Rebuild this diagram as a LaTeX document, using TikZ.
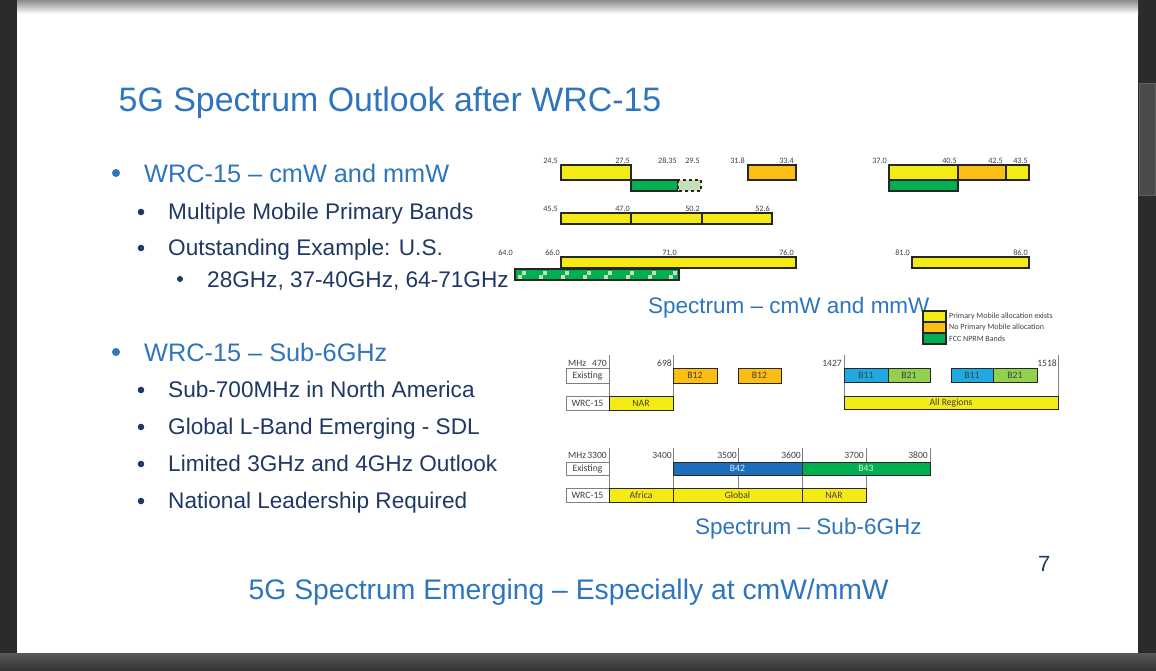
\documentclass[tikz,border=0pt]{standalone}
\usepackage{fontspec}
\setmainfont{Liberation Sans}
\newfontfamily\chartfont{Carlito}
\usetikzlibrary{positioning}
\definecolor{slideblue}{RGB}{46,117,189}
\definecolor{slidenavy}{RGB}{31,56,100}
\definecolor{frame}{RGB}{43,43,43}
\definecolor{barline}{RGB}{38,38,38}
\definecolor{bandyellow}{RGB}{245,235,20}
\definecolor{bandorange}{RGB}{252,190,18}
\definecolor{bandgreen}{RGB}{0,176,80}
\definecolor{palegreen}{RGB}{197,224,180}
\definecolor{bandcyan}{RGB}{32,168,224}
\definecolor{bandlime}{RGB}{146,208,80}
\definecolor{bandblue}{RGB}{30,110,190}
\definecolor{ticktext}{RGB}{64,64,64}
\definecolor{gridgray}{RGB}{128,128,128}
\tikzset{
	band/.style={draw=barline,line width=1.5pt},
	subband/.style={draw=barline,line width=0.8pt},
	bandlabel/.style={inner sep=0pt,text=ticktext,font=\chartfont\fontsize{9.7}{11}\selectfont},
	tick/.style={anchor=base east,inner sep=0pt,text=ticktext,font=\chartfont\fontsize{8.2}{9}\selectfont},
	mhz/.style={anchor=base east,inner sep=0pt,text=ticktext,font=\chartfont\fontsize{9.6}{11}\selectfont},
	rowbox/.style={draw=gridgray,line width=0.8pt,fill=white},
	marker/.style={draw=gridgray,line width=0.9pt},
	lvlone/.style={anchor=base west,inner sep=0pt,text=slideblue,font=\fontsize{25.3}{30}\selectfont},
	lvltwo/.style={anchor=base west,inner sep=0pt,text=slidenavy,font=\fontsize{22.6}{27}\selectfont},
	caption/.style={anchor=base west,inner sep=0pt,text=slideblue,font=\fontsize{22.5}{27}\selectfont},
	legendtext/.style={anchor=west,inner sep=0pt,text=ticktext,font=\chartfont\fontsize{8}{9}\selectfont}
}
\begin{document}
\begin{tikzpicture}[x=1pt,y=-1pt]
	\useasboundingbox (0,0) rectangle (1156,670);
	% window frame
	\fill[frame] (0,0) rectangle (1156,670);
	\fill[white] (17,0) rectangle (1138,653);
	\shade[top color={rgb,255:red,140;green,140;blue,140},bottom color=white] (17,0) rectangle (1138,14);
	\shade[top color={rgb,255:red,88;green,88;blue,88},bottom color={rgb,255:red,52;green,52;blue,52}] (0,653) rectangle (1156,670);
	\filldraw[fill={rgb,255:red,74;green,74;blue,74},draw={rgb,255:red,96;green,96;blue,96}] (1139,83) rectangle (1155,195);

	% slide text
	\node[anchor=base west,inner sep=0pt,text=slideblue,font=\fontsize{33.9}{40}\selectfont] (title) at (118.5,111) {5G Spectrum Outlook after WRC-15};
	\fill[slideblue] (116,173) circle (4);
	\node[lvlone] (cmw) at (144,182) {WRC-15 – cmW and mmW};
	\fill[slidenavy] (141,212) circle (3.3);
	\node[lvltwo] (multi) at (168,219) {Multiple Mobile Primary Bands};
	\fill[slidenavy] (141,248) circle (3.3);
	\node[lvltwo] (usa) at (168,255) {Outstanding Example: U.S.};
	\fill[slidenavy] (180,279) circle (3);
	\node[lvltwo] (ghz) at (207,287) {28GHz, 37-40GHz, 64-71GHz};
	\fill[slideblue] (116,352) circle (4);
	\node[lvlone] (sub) at (144,361) {WRC-15 – Sub-6GHz};
	\fill[slidenavy] (141,390) circle (3.3);
	\node[lvltwo] (na) at (168,397) {Sub-700MHz in North America};
	\fill[slidenavy] (141,427) circle (3.3);
	\node[lvltwo] (lband) at (168,434) {Global L-Band Emerging - SDL};
	\fill[slidenavy] (141,464) circle (3.3);
	\node[lvltwo] (limited) at (168,471) {Limited 3GHz and 4GHz Outlook};
	\fill[slidenavy] (141,501) circle (3.3);
	\node[lvltwo] (lead) at (168,508) {National Leadership Required};
	\node[anchor=base west,inner sep=0pt,text=slideblue,font=\fontsize{28.3}{33}\selectfont] (emerging) at (248.5,599) {5G Spectrum Emerging – Especially at cmW/mmW};
	\node[anchor=base west,inner sep=0pt,text=slidenavy,font=\fontsize{22}{26}\selectfont] (page) at (1038,571) {7};

	% cmW and mmW bands
	\draw[band,fill=bandyellow] (561,165) rectangle (631,180);
	\draw[band,fill=bandgreen] (631,180) rectangle (678,191);
	\draw[band,dashed,fill=palegreen] (678,180) rectangle (701,191);
	\draw[band,fill=bandorange] (748,165) rectangle (796,180);
	\draw[band,fill=bandyellow] (889,165) rectangle (958,180);
	\draw[band,fill=bandorange] (958,165) rectangle (1006,180);
	\draw[band,fill=bandyellow] (1006,165) rectangle (1029,180);
	\draw[band,fill=bandgreen] (889,180) rectangle (958,191);
	\draw[band,fill=bandyellow] (561,213) rectangle (631,224);
	\draw[band,fill=bandyellow] (631,213) rectangle (702,224);
	\draw[band,fill=bandyellow] (702,213) rectangle (772,224);
	\draw[band,fill=bandyellow] (561,257) rectangle (796,268);
	\draw[band,fill=bandgreen] (515,269) rectangle (679,280);
	\foreach \i in {0,...,7} {
		\fill[palegreen] ({517.5+21.7*\i},274.5) rectangle +(4,4);
		\fill[palegreen] ({521.5+21.7*\i},270.5) rectangle +(4,4);
	}
	\draw[band,fill=bandyellow] (912,257) rectangle (1029,268);

	\node[tick] (f245) at (558,163) {24.5};
	\node[tick] (f275) at (630,163) {27.5};
	\node[tick] (f2835) at (677,163) {28.35};
	\node[tick] (f295) at (700,163) {29.5};
	\node[tick] (f318) at (745,163) {31.8};
	\node[tick] (f334) at (794,163) {33.4};
	\node[tick] (f370) at (887,163) {37.0};
	\node[tick] (f405) at (957,163) {40.5};
	\node[tick] (f425) at (1003,163) {42.5};
	\node[tick] (f435) at (1028,163) {43.5};
	\node[tick] (f455) at (558,211) {45.5};
	\node[tick] (f470) at (630,211) {47.0};
	\node[tick] (f502) at (700,211) {50.2};
	\node[tick] (f526) at (770,211) {52.6};
	\node[tick] (f640) at (513,255) {64.0};
	\node[tick] (f660) at (560,255) {66.0};
	\node[tick] (f710) at (677,255) {71.0};
	\node[tick] (f760) at (794,255) {76.0};
	\node[tick] (f810) at (910,255) {81.0};
	\node[tick] (f860) at (1028,255) {86.0};

	\node[caption] (cmwcap) at (648,313) {Spectrum – cmW and mmW};

	% legend
	\draw[band,fill=bandyellow] (923,311) rectangle (946,322);
	\draw[band,fill=bandorange] (923,322) rectangle (946,333);
	\draw[band,fill=bandgreen] (923,333) rectangle (946,344);
	\node[legendtext] (keyyes) at (949,316.5) {Primary Mobile allocation exists};
	\node[legendtext] (keyno) at (949,327.5) {No Primary Mobile allocation};
	\node[legendtext] (keyfcc) at (949,338.5) {FCC NPRM Bands};

	% sub-6GHz, 470 - 1518 MHz
	\draw[marker] (609,355) -- (609,410);
	\draw[marker] (673,355) -- (673,410);
	\draw[marker] (844,355) -- (844,410);
	\draw[marker] (1058,355) -- (1058,410);
	\node[mhz,anchor=base west] (mhza) at (568,366) {MHz};
	\node[mhz] (m470) at (607,366) {470};
	\node[mhz] (m698) at (672,366) {698};
	\node[mhz] (m1427) at (842,366) {1427};
	\node[mhz] (m1518) at (1057,366) {1518};
	\draw[rowbox] (566,368) rectangle (609,383) node[bandlabel,midway] (exista) {Existing};
	\draw[rowbox] (566,396) rectangle (609,410) node[bandlabel,midway] (wrca) {WRC-15};
	\draw[subband,fill=bandorange] (673,368) rectangle (717,383) node[bandlabel,midway] (b12a) {B12};
	\draw[subband,fill=bandorange] (738,368) rectangle (781,383) node[bandlabel,midway] (b12b) {B12};
	\draw[subband,fill=bandyellow] (609,396) rectangle (673,410) node[bandlabel,midway] (nara) {NAR};
	\draw[subband,fill=bandcyan] (844,368) rectangle (888,382) node[bandlabel,midway] (b11a) {B11};
	\draw[subband,fill=bandlime] (888,368) rectangle (930,382) node[bandlabel,midway] (b21a) {B21};
	\draw[subband,fill=bandcyan] (951,368) rectangle (993,382) node[bandlabel,midway] (b11b) {B11};
	\draw[subband,fill=bandlime] (993,368) rectangle (1037,382) node[bandlabel,midway] (b21b) {B21};
	\draw[subband,fill=bandyellow] (844,396) rectangle (1058,409) node[bandlabel,midway] (allreg) {All Regions};

	% sub-6GHz, 3300 - 3800 MHz
	\draw[marker] (609,448) -- (609,502);
	\draw[marker] (673,448) -- (673,502);
	\draw[marker] (738,448) -- (738,488);
	\draw[marker] (802,448) -- (802,502);
	\draw[marker] (866,448) -- (866,502);
	\draw[marker] (930,448) -- (930,474);
	\node[mhz,anchor=base west] (mhzb) at (568,458) {MHz};
	\node[mhz] (m3300) at (607,458) {3300};
	\node[mhz] (m3400) at (672,458) {3400};
	\node[mhz] (m3500) at (737,458) {3500};
	\node[mhz] (m3600) at (801,458) {3600};
	\node[mhz] (m3700) at (864,458) {3700};
	\node[mhz] (m3800) at (928,458) {3800};
	\draw[rowbox] (566,462) rectangle (609,475) node[bandlabel,midway] (existb) {Existing};
	\draw[rowbox] (566,488) rectangle (609,502) node[bandlabel,midway] (wrcb) {WRC-15};
	\draw[subband,fill=bandblue] (673,462) rectangle (802,475) node[bandlabel,text=white!85!bandblue,midway] (b42) {B42};
	\draw[subband,fill=bandgreen] (802,462) rectangle (930,475) node[bandlabel,text=white!85!bandgreen,midway] (b43) {B43};
	\draw[subband,fill=bandyellow] (609,488) rectangle (673,502) node[bandlabel,midway] (africa) {Africa};
	\draw[subband,fill=bandyellow] (673,488) rectangle (802,502) node[bandlabel,midway] (global) {Global};
	\draw[subband,fill=bandyellow] (802,488) rectangle (866,502) node[bandlabel,midway] (narb) {NAR};

	\node[caption] (subcap) at (695,534) {Spectrum – Sub-6GHz};
\end{tikzpicture}
\end{document}
